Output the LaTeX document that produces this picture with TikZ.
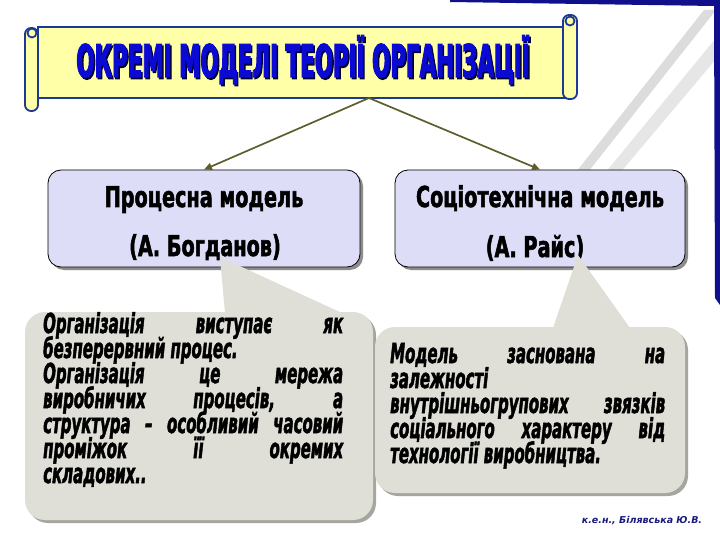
\documentclass[tikz,border=0pt]{standalone}
\usepackage{fontspec}
\setmainfont{DejaVu Sans}
\newfontfamily\ftitle[FakeStretch=0.595,FakeBold=2.5]{DejaVu Sans}
\newfontfamily\fmodel[FakeStretch=0.77,FakeBold=2]{DejaVu Sans}
\newfontfamily\fcall[FakeStretch=0.68,FakeBold=2]{DejaVu Sans}
\usetikzlibrary{arrows.meta}
\definecolor{scrollfill}{HTML}{FFFFA8}
\definecolor{scrollline}{HTML}{1C3A94}
\definecolor{titleblue}{HTML}{0A0AD2}
\definecolor{titleshade}{HTML}{000033}
\definecolor{boxfill}{HTML}{DDDDF8}
\definecolor{callfill}{HTML}{DFDFD7}
\definecolor{callshadow}{HTML}{A6A6A0}
\definecolor{boxshadow}{HTML}{8C8C8C}
\definecolor{arrowc}{HTML}{5E5E2C}
\definecolor{frameblue}{HTML}{10108C}
\definecolor{stripeA}{HTML}{DCDCDC}
\definecolor{stripeB}{HTML}{E6E6E6}
\definecolor{footblue}{HTML}{1B1B80}
\newcommand\shtext[4]{\makebox[0pt][l]{\kern#3\raisebox{-#3}{\textcolor{#2}{#4}}}\textcolor{#1}{#4}}
\newcommand\tall[2]{\scalebox{1}[#1]{#2}}
\begin{document}
\begin{tikzpicture}[x=1pt,y=-1pt,
  scroll/.style={fill=scrollfill, draw=scrollline, line width=1.8pt},
  arr/.style={draw=arrowc, line width=1.7pt, -{Triangle[length=8pt,width=7pt]}},
  modelbox/.style={draw=black, line width=0.8pt, fill=boxfill, rounded corners=13pt, minimum height=97pt, inner sep=0pt},
  modelshadow/.style={fill=boxshadow, rounded corners=13pt, minimum height=97pt, inner sep=0pt},
  mtext/.style={anchor=base, inner sep=0pt, text=black, font=\fmodel\bfseries\fontsize{25}{25}\selectfont},
  ttext/.style={anchor=base, inner sep=0pt, font=\ftitle\bfseries\fontsize{36}{36}\selectfont},
  ctext/.style={anchor=base west, inner sep=0pt, font=\fcall\bfseries\itshape\fontsize{22}{22}\selectfont, text=black},
  callbody/.style={fill=callfill, rounded corners=20pt},
  callshade/.style={fill=callshadow, rounded corners=20pt}
]
\useasboundingbox (0,0) rectangle (720,540);
\fill[white] (0,0) rectangle (720,540);

% background decoration (top right)
\fill[stripeA] (704,10) -- (716,10) -- (566,200) -- (554,200) -- cycle;
\fill[stripeB] (716,38) -- (722,38) -- (722,52) -- (592,206) -- (578,206) -- cycle;
\fill[frameblue] (450,0) -- (720,0) -- (720,305) -- (715,298) -- (714,6) -- (450,2) -- cycle;

% banner scroll
\filldraw[scroll] (38,27) rectangle (570,98);
\filldraw[scroll, rounded corners=6pt] (25,28) rectangle (38,111);
\filldraw[scroll] (32,33) circle (4.5);
\filldraw[scroll, rounded corners=6pt] (563,15) rectangle (577,99);
\filldraw[scroll] (570,21) circle (4.5);
\node[ttext] (title) at (303,77) {\tall{1.25}{\shtext{titleblue}{titleshade}{1.5pt}{ОКРЕМІ МОДЕЛІ ТЕОРІЇ ОРГАНІЗАЦІЇ}}};
\coordinate (fork) at (369,98);

% model boxes
\node[modelshadow, minimum width=312pt] (boxLs) at (207,221.5) {};
\node[modelbox, minimum width=312pt] (boxL) at (204,218.5) {};
\node[modelshadow, minimum width=290pt] (boxRs) at (543,221.5) {};
\node[modelbox, minimum width=290pt] (boxR) at (540,218.5) {};

\draw[arr] (fork) -- (boxL.north);
\draw[arr] (fork) -- (boxR.north);

\node[mtext] (tL1) at (204,207) {\tall{1.15}{Процесна модель}};
\node[mtext] (tL2) at (205,256) {\tall{1.15}{(А. Богданов)}};
\node[mtext] (tR1) at (540,207) {\tall{1.15}{Соціотехнічна модель}};
\node[mtext] (tR2) at (535,257) {\tall{1.15}{(А. Райс)}};

% left callout
\path[callshade] (28,315) rectangle (376,523);
\path[callbody] (25,312) rectangle (373,520);
\fill[callfill] (220,257) -- (225,313) -- (342,313) -- cycle;
% right callout
\path[callshade] (378,330) rectangle (688,496);
\path[callbody] (375,327) rectangle (685,493);
\fill[callfill] (578,255) -- (553,328) -- (630,328) -- cycle;

% left callout text
\node[ctext] (cl1) at (43,333) {\tall{1.25}{\makebox[300pt][s]{Організація виступає як}}};
\node[ctext] (cl2) at (43,358) {\tall{1.25}{безперервний процес.}};
\node[ctext] (cl3) at (43,383) {\tall{1.25}{\makebox[300pt][s]{Організація це мережа}}};
\node[ctext] (cl4) at (43,408) {\tall{1.25}{\makebox[300pt][s]{виробничих процесів, а}}};
\node[ctext] (cl5) at (43,433) {\tall{1.25}{\makebox[300pt][s]{структура – особливий часовий}}};
\node[ctext] (cl6) at (43,458) {\tall{1.25}{\makebox[300pt][s]{проміжок її окремих}}};
\node[ctext] (cl7) at (43,483) {\tall{1.25}{складових..}};

% right callout text
\node[ctext] (cr1) at (390,363) {\tall{1.25}{\makebox[275pt][s]{Модель заснована на}}};
\node[ctext] (cr2) at (390,388) {\tall{1.25}{залежності}};
\node[ctext] (cr3) at (390,413) {\tall{1.25}{\makebox[275pt][s]{внутрішньогрупових звязків}}};
\node[ctext] (cr4) at (390,438) {\tall{1.25}{\makebox[275pt][s]{соціального характеру від}}};
\node[ctext] (cr5) at (390,463) {\tall{1.25}{технології виробництва.}};

% footer
\node[anchor=base, inner sep=0pt, text=footblue, font=\bfseries\itshape\fontsize{9.5}{9.5}\selectfont] (foot) at (642,523) {к.е.н., Білявська Ю.В.};
\end{tikzpicture}
\end{document}
